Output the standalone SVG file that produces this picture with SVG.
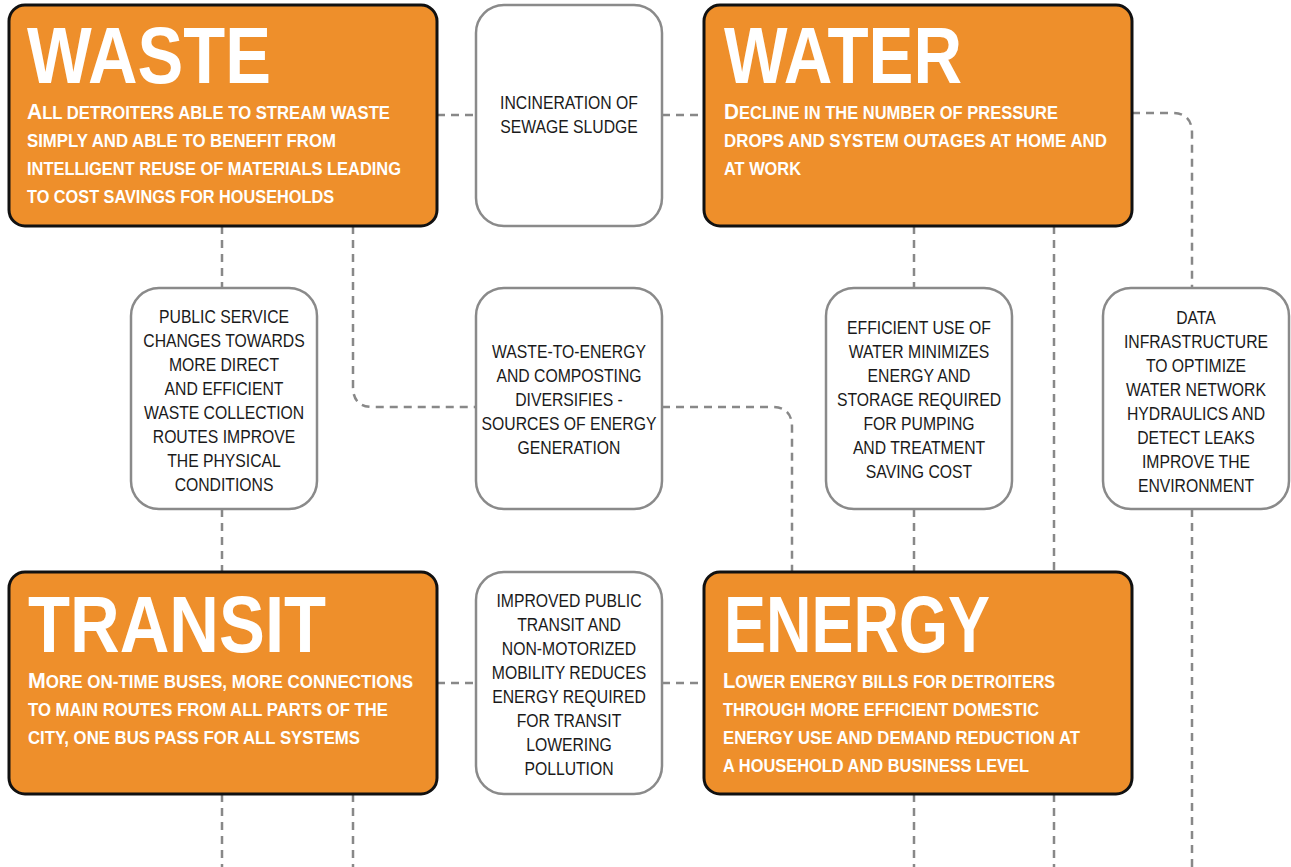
<svg xmlns="http://www.w3.org/2000/svg" width="1291" height="867" viewBox="0 0 1291 867">
<style>
.ob{fill:#EE8F2B;stroke:#111;stroke-width:3}
.wb{fill:#fff;stroke:#8a8a8a;stroke-width:2.5}
.title{font-family:"Liberation Sans",Arial,sans-serif;font-weight:bold;font-size:79px;fill:#fff}
.sub{font-family:"Liberation Sans",Arial,sans-serif;font-weight:bold;font-size:17.5px;fill:#fff}
.cap{font-size:22px}
.wt{font-family:"Liberation Sans",Arial,sans-serif;font-size:17.5px;fill:#1a1a1a;text-anchor:middle}
.con{fill:none;stroke:#888;stroke-width:2.5;stroke-dasharray:8 6}
</style>
<rect width="1291" height="867" fill="#fff"/>
<g id="connectors">
<path class="con" d="M437,115 H476"/>
<path class="con" d="M662,115 H704"/>
<path class="con" d="M1132,113 H1172 Q1192,113 1192,133 V288"/>
<path class="con" d="M1192,509 V867"/>
<path class="con" d="M222,226 V288"/>
<path class="con" d="M222,509 V572"/>
<path class="con" d="M353,226 V387 Q353,407 373,407 H476"/>
<path class="con" d="M662,407 H772 Q792,407 792,427 V572"/>
<path class="con" d="M914,226 V288"/>
<path class="con" d="M914,509 V572"/>
<path class="con" d="M1054,226 V572"/>
<path class="con" d="M437,683 H476"/>
<path class="con" d="M662,683 H704"/>
<path class="con" d="M222,794 V867"/>
<path class="con" d="M353,794 V867"/>
<path class="con" d="M914,794 V867"/>
<path class="con" d="M1054,794 V867"/>
</g>
<g id="waste">
<rect class="ob" x="9" y="5" width="428" height="221" rx="16"/>
<text class="title" x="27" y="83" textLength="244" lengthAdjust="spacingAndGlyphs">WASTE</text>
<text class="sub" x="27" y="119" textLength="363" lengthAdjust="spacingAndGlyphs"><tspan class="cap">A</tspan>LL DETROITERS ABLE TO STREAM WASTE</text>
<text class="sub" x="27" y="147" textLength="309" lengthAdjust="spacingAndGlyphs">SIMPLY AND ABLE TO BENEFIT FROM</text>
<text class="sub" x="27" y="175" textLength="374" lengthAdjust="spacingAndGlyphs">INTELLIGENT REUSE OF MATERIALS LEADING</text>
<text class="sub" x="27" y="203" textLength="307" lengthAdjust="spacingAndGlyphs">TO COST SAVINGS FOR HOUSEHOLDS</text>
</g>
<g id="water">
<rect class="ob" x="704" y="5" width="428" height="221" rx="16"/>
<text class="title" x="724" y="83" textLength="238" lengthAdjust="spacingAndGlyphs">WATER</text>
<text class="sub" x="724" y="119" textLength="334" lengthAdjust="spacingAndGlyphs"><tspan class="cap">D</tspan>ECLINE IN THE NUMBER OF PRESSURE</text>
<text class="sub" x="724" y="147" textLength="383" lengthAdjust="spacingAndGlyphs">DROPS AND SYSTEM OUTAGES AT HOME AND</text>
<text class="sub" x="724" y="175" textLength="77" lengthAdjust="spacingAndGlyphs">AT WORK</text>
</g>
<g id="transit">
<rect class="ob" x="9" y="572" width="428" height="222" rx="16"/>
<text class="title" x="28" y="652" textLength="298" lengthAdjust="spacingAndGlyphs">TRANSIT</text>
<text class="sub" x="28" y="688" textLength="385" lengthAdjust="spacingAndGlyphs"><tspan class="cap">M</tspan>ORE ON-TIME BUSES, MORE CONNECTIONS</text>
<text class="sub" x="28" y="716" textLength="360" lengthAdjust="spacingAndGlyphs">TO MAIN ROUTES FROM ALL PARTS OF THE</text>
<text class="sub" x="28" y="744" textLength="332" lengthAdjust="spacingAndGlyphs">CITY, ONE BUS PASS FOR ALL SYSTEMS</text>
</g>
<g id="energy">
<rect class="ob" x="704" y="572" width="428" height="222" rx="16"/>
<text class="title" x="724" y="652" textLength="266" lengthAdjust="spacingAndGlyphs">ENERGY</text>
<text class="sub" x="723" y="688" textLength="332" lengthAdjust="spacingAndGlyphs"><tspan class="cap">L</tspan>OWER ENERGY BILLS FOR DETROITERS</text>
<text class="sub" x="723" y="716" textLength="316" lengthAdjust="spacingAndGlyphs">THROUGH MORE EFFICIENT DOMESTIC</text>
<text class="sub" x="723" y="744" textLength="357" lengthAdjust="spacingAndGlyphs">ENERGY USE AND DEMAND REDUCTION AT</text>
<text class="sub" x="723" y="772" textLength="306" lengthAdjust="spacingAndGlyphs">A HOUSEHOLD AND BUSINESS LEVEL</text>
</g>
<g id="incineration">
<rect class="wb" x="476" y="5" width="186" height="221" rx="28"/>
<g transform="translate(569,0) scale(0.9,1)">
<text class="wt" x="0" y="109">INCINERATION OF</text>
<text class="wt" x="0" y="133">SEWAGE SLUDGE</text>
</g>
</g>
<g id="public-service">
<rect class="wb" x="131" y="288" width="186" height="221" rx="28"/>
<g transform="translate(224,0) scale(0.9,1)">
<text class="wt" x="0" y="323">PUBLIC SERVICE</text>
<text class="wt" x="0" y="347">CHANGES TOWARDS</text>
<text class="wt" x="0" y="371">MORE DIRECT</text>
<text class="wt" x="0" y="395">AND EFFICIENT</text>
<text class="wt" x="0" y="419">WASTE COLLECTION</text>
<text class="wt" x="0" y="443">ROUTES IMPROVE</text>
<text class="wt" x="0" y="467">THE PHYSICAL</text>
<text class="wt" x="0" y="491">CONDITIONS</text>
</g>
</g>
<g id="waste-to-energy">
<rect class="wb" x="476" y="288" width="186" height="221" rx="28"/>
<g transform="translate(569,0) scale(0.9,1)">
<text class="wt" x="0" y="358">WASTE-TO-ENERGY</text>
<text class="wt" x="0" y="382">AND COMPOSTING</text>
<text class="wt" x="0" y="406">DIVERSIFIES -</text>
<text class="wt" x="0" y="430">SOURCES OF ENERGY</text>
<text class="wt" x="0" y="454">GENERATION</text>
</g>
</g>
<g id="efficient-water">
<rect class="wb" x="826" y="288" width="186" height="221" rx="28"/>
<g transform="translate(919,0) scale(0.9,1)">
<text class="wt" x="0" y="334">EFFICIENT USE OF</text>
<text class="wt" x="0" y="358">WATER MINIMIZES</text>
<text class="wt" x="0" y="382">ENERGY AND</text>
<text class="wt" x="0" y="406">STORAGE REQUIRED</text>
<text class="wt" x="0" y="430">FOR PUMPING</text>
<text class="wt" x="0" y="454">AND TREATMENT</text>
<text class="wt" x="0" y="478">SAVING COST</text>
</g>
</g>
<g id="data-infrastructure">
<rect class="wb" x="1103" y="288" width="186" height="221" rx="28"/>
<g transform="translate(1196,0) scale(0.9,1)">
<text class="wt" x="0" y="324">DATA</text>
<text class="wt" x="0" y="348">INFRASTRUCTURE</text>
<text class="wt" x="0" y="372">TO OPTIMIZE</text>
<text class="wt" x="0" y="396">WATER NETWORK</text>
<text class="wt" x="0" y="420">HYDRAULICS AND</text>
<text class="wt" x="0" y="444">DETECT LEAKS</text>
<text class="wt" x="0" y="468">IMPROVE THE</text>
<text class="wt" x="0" y="492">ENVIRONMENT</text>
</g>
</g>
<g id="improved-transit">
<rect class="wb" x="476" y="572" width="186" height="222" rx="28"/>
<g transform="translate(569,0) scale(0.9,1)">
<text class="wt" x="0" y="607">IMPROVED PUBLIC</text>
<text class="wt" x="0" y="631">TRANSIT AND</text>
<text class="wt" x="0" y="655">NON-MOTORIZED</text>
<text class="wt" x="0" y="679">MOBILITY REDUCES</text>
<text class="wt" x="0" y="703">ENERGY REQUIRED</text>
<text class="wt" x="0" y="727">FOR TRANSIT</text>
<text class="wt" x="0" y="751">LOWERING</text>
<text class="wt" x="0" y="775">POLLUTION</text>
</g>
</g>
</svg>
